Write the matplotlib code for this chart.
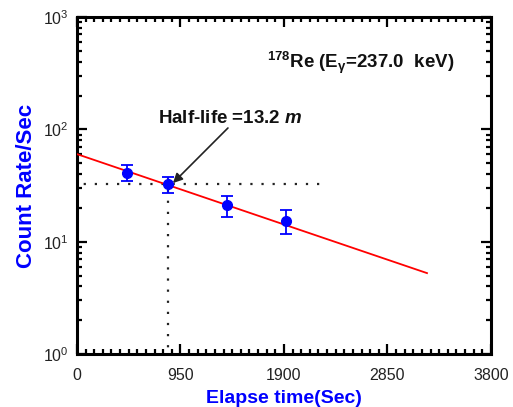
import numpy as np
import matplotlib
matplotlib.use("Agg")
import matplotlib.pyplot as plt
from matplotlib.ticker import LogLocator, LogFormatterMathtext, MultipleLocator, FixedLocator

plt.rcParams['font.family'] = ['Liberation Sans', 'DejaVu Sans']
plt.rcParams['mathtext.fontset'] = 'custom'
plt.rcParams['mathtext.rm'] = 'Liberation Sans'
plt.rcParams['mathtext.it'] = 'Liberation Sans:italic'
plt.rcParams['mathtext.bf'] = 'Liberation Sans:bold'
plt.rcParams['mathtext.bfit'] = 'Liberation Sans:bold:italic'

# Data
time_s = [459, 835, 1377, 1918]
rate = [41.1, 32.4, 21.2, 15.4]
rate_err = [6.7, 5.5, 4.5, 3.7]

# Fitted decay line (as drawn)
fit_A0 = 60.3
fit_T_half_s = 913.0
fit_t_end = 3213.0

# Guide lines
guide_t = 835
guide_rate = 32.4
guide_h_end = 2249
guide_v_top = 43.5

# Arrow endpoints (data coords)
arrow_tail = (1386, 103)
arrow_head = (881, 33.3)

x_ticks = [0, 950, 1900, 2850, 3800]

fig = plt.figure(figsize=(5.13, 4.07), dpi=100)
ax = fig.add_axes([0.150, 0.130, 0.807, 0.828])

t_fit = np.linspace(0, fit_t_end, 200)
ax.plot(t_fit, fit_A0 * np.exp(-np.log(2) / fit_T_half_s * t_fit), color='red', lw=1.3, zorder=3)

ax.plot([0, guide_h_end], [guide_rate, guide_rate], color='#222222', lw=1.6,
        linestyle=(2, (1, 4)), zorder=2)
ax.plot([guide_t, guide_t], [1, guide_v_top], color='#222222', lw=1.6,
        linestyle=(2, (1, 4)), zorder=2)

ax.errorbar(time_s, rate, yerr=rate_err, fmt='o', color='blue', ms=7,
            capsize=4, elinewidth=1.3, capthick=1.3, zorder=4)

ax.set_xscale('linear')
ax.set_yscale('log')
ax.set_xlim(0, 3800)
ax.set_ylim(1, 1000)
ax.xaxis.set_major_locator(FixedLocator(x_ticks))
ax.xaxis.set_minor_locator(MultipleLocator(950 / 12))
ax.yaxis.set_major_locator(LogLocator(base=10, numticks=10))
ax.yaxis.set_minor_locator(LogLocator(base=10, subs=np.arange(2, 10), numticks=10))
ax.yaxis.set_major_formatter(LogFormatterMathtext())

for s in ax.spines.values():
    s.set_linewidth(2.2)
ax.tick_params(which='both', direction='in', top=True, right=True, labelsize=11.5,
               labelcolor='#222222')
ax.tick_params(axis='x', pad=10)
ax.tick_params(axis='y', pad=6)
ax.tick_params(which='major', length=7, width=1.6)
ax.tick_params(which='minor', length=3.5, width=1.6)

ax.set_xlabel('Elapse time(Sec)', fontsize=14, fontweight='bold', color='blue', labelpad=5)
ax.set_ylabel('Count Rate/Sec', fontsize=16, fontweight='bold', color='blue', labelpad=4)

ax.text(0.686, 0.864, r'$^{\mathbf{178}}$Re (E$_{\mathbf{\gamma}}$=237.0  keV)',
        transform=ax.transAxes, ha='center', va='center', fontsize=13.5, fontweight='bold',
        color='#111111')

ax.text(0.37, 0.70, r'Half-life =13.2 $\mathbfit{m}$', transform=ax.transAxes,
        ha='center', va='center', fontsize=13.5, fontweight='bold', color='#111111')
ax.annotate('', xy=arrow_head, xytext=arrow_tail,
            arrowprops=dict(arrowstyle='-|>', color='#222222', lw=1.2, mutation_scale=14,
                            shrinkA=0, shrinkB=0))

fig.savefig('out.png', dpi=100)
